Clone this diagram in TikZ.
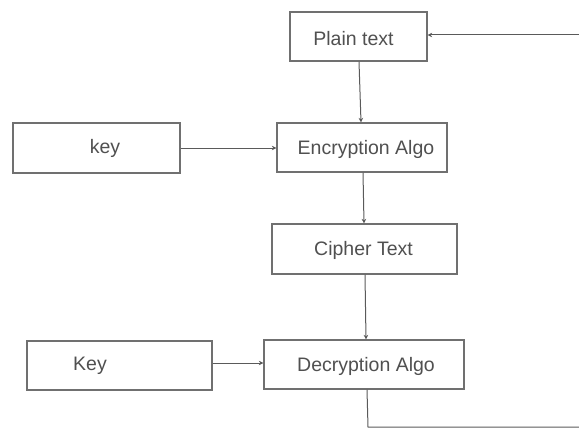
\documentclass[tikz,border=0pt]{standalone}
\usepackage{fontspec}
\setmainfont{Liberation Sans}
\usetikzlibrary{arrows.meta}
\definecolor{boxcol}{HTML}{707070}
\definecolor{linecol}{HTML}{5A5A5A}
\definecolor{txtcol}{HTML}{505050}
\tikzset{
  box/.style={draw=boxcol, line width=1.3pt, inner sep=0pt, fill=white},
  lbl/.style={text=txtcol, font=\fontsize{19.5}{21}\selectfont, inner sep=0pt},
  conn/.style={draw=linecol, line width=1pt, -{Stealth[length=4.5pt,width=4.5pt]}},
  plain/.style={draw=linecol, line width=1pt}
}
\begin{document}
\begin{tikzpicture}[x=1pt,y=-1pt]
\useasboundingbox (0,0) rectangle (579,428);
% boxes
\node[box, minimum width=137pt, minimum height=49pt] (plain) at (358.5,36.5) {};
\node[box, minimum width=167pt, minimum height=50pt] (key1) at (96.5,148) {};
\node[box, minimum width=170pt, minimum height=49pt] (enc) at (362,147.5) {};
\node[box, minimum width=185pt, minimum height=50pt] (ciph) at (364.5,249) {};
\node[box, minimum width=200pt, minimum height=49pt] (dec) at (364,364.5) {};
\node[box, minimum width=185pt, minimum height=49pt] (key2) at (119.5,365.5) {};
% labels
\node[lbl] (tplain) at (353.5,39) {Plain text};
\node[lbl] (tkey1) at (105,148) {key};
\node[lbl] (tenc) at (366,149) {Encryption Algo};
\node[lbl] (tciph) at (363.5,250) {Cipher Text};
\node[lbl] (tdec) at (366,366) {Decryption Algo};
\node[lbl] (tkey2) at (90,366) {Key};
% coordinates
\coordinate (rin) at (579,35);
\coordinate (dbend) at (368,427);
\coordinate (dout) at (579,427);
% connectors
\draw[conn] (rin) -- (plain.east |- rin);
\draw[conn] ([xshift=0.5pt]plain.south) -- ([xshift=-1pt]enc.north);
\draw[conn] (key1.east) -- (enc.west |- key1.east);
\draw[conn] ([xshift=1pt]enc.south) -- ([xshift=-0.5pt]ciph.north);
\draw[conn] ([xshift=0.5pt]ciph.south) -- ([xshift=2pt]dec.north);
\draw[conn] (key2.east |- 0,363) -- (dec.west |- 0,363);
\draw[plain] ([xshift=3pt]dec.south) -- (dbend) -- (dout);
\end{tikzpicture}
\end{document}
